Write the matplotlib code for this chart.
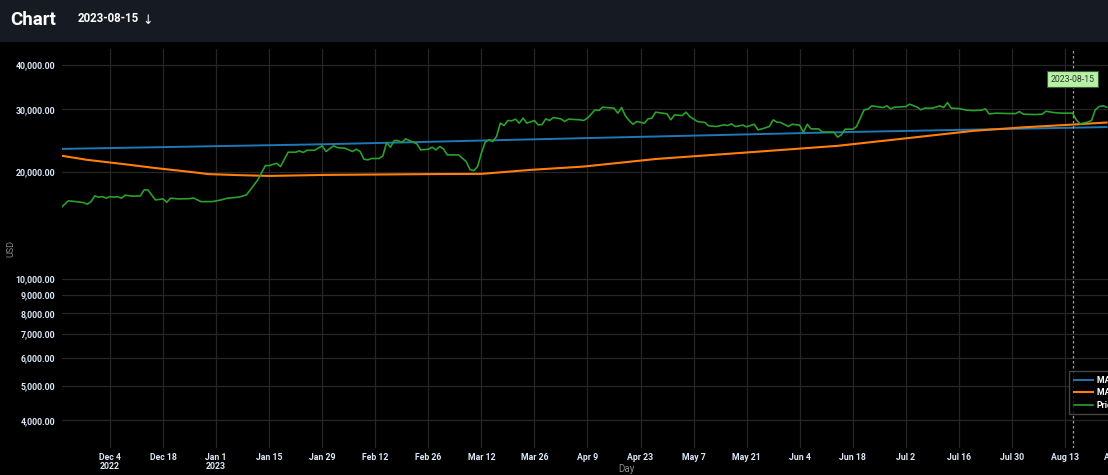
import numpy as np
import pandas as pd
import matplotlib
matplotlib.use('Agg')
import matplotlib.pyplot as plt
import matplotlib.dates as mdates
from matplotlib.ticker import FixedLocator, FuncFormatter, NullLocator
from matplotlib.patches import Rectangle

plt.rcParams['font.family'] = ['Roboto', 'DejaVu Sans']

# --- data ---
price_dates = ['2022-11-21', '2022-11-23', '2022-11-25', '2022-11-27', '2022-11-28', '2022-11-29',
               '2022-11-30', '2022-12-01', '2022-12-02', '2022-12-03', '2022-12-04', '2022-12-05',
               '2022-12-06', '2022-12-07', '2022-12-08', '2022-12-10', '2022-12-12', '2022-12-13',
               '2022-12-14', '2022-12-16', '2022-12-18', '2022-12-19', '2022-12-20', '2022-12-22',
               '2022-12-25', '2022-12-26', '2022-12-28', '2022-12-31', '2023-01-02', '2023-01-04',
               '2023-01-07', '2023-01-09', '2023-01-10', '2023-01-12', '2023-01-14', '2023-01-15',
               '2023-01-17', '2023-01-18', '2023-01-20', '2023-01-22', '2023-01-23', '2023-01-24',
               '2023-01-25', '2023-01-27', '2023-01-29', '2023-01-30', '2023-02-01', '2023-02-02',
               '2023-02-04', '2023-02-06', '2023-02-07', '2023-02-08', '2023-02-09', '2023-02-10',
               '2023-02-11', '2023-02-13', '2023-02-14', '2023-02-15', '2023-02-16', '2023-02-17',
               '2023-02-18', '2023-02-19', '2023-02-20', '2023-02-22', '2023-02-23', '2023-02-24',
               '2023-02-26', '2023-02-27', '2023-02-28', '2023-03-01', '2023-03-02', '2023-03-03',
               '2023-03-06', '2023-03-07', '2023-03-08', '2023-03-09', '2023-03-10', '2023-03-11',
               '2023-03-12', '2023-03-13', '2023-03-14', '2023-03-15', '2023-03-16', '2023-03-17',
               '2023-03-18', '2023-03-19', '2023-03-20', '2023-03-21', '2023-03-22', '2023-03-23',
               '2023-03-24', '2023-03-26', '2023-03-27', '2023-03-28', '2023-03-29', '2023-03-30',
               '2023-03-31', '2023-04-02', '2023-04-03', '2023-04-04', '2023-04-07', '2023-04-08',
               '2023-04-09', '2023-04-11', '2023-04-12', '2023-04-13', '2023-04-16', '2023-04-17',
               '2023-04-18', '2023-04-19', '2023-04-20', '2023-04-21', '2023-04-22', '2023-04-24',
               '2023-04-25', '2023-04-26', '2023-04-27', '2023-04-30', '2023-05-01', '2023-05-02',
               '2023-05-04', '2023-05-05', '2023-05-06', '2023-05-08', '2023-05-10', '2023-05-11',
               '2023-05-13', '2023-05-15', '2023-05-16', '2023-05-17', '2023-05-18', '2023-05-20',
               '2023-05-21', '2023-05-23', '2023-05-24', '2023-05-25', '2023-05-27', '2023-05-28',
               '2023-05-29', '2023-05-30', '2023-06-01', '2023-06-02', '2023-06-04', '2023-06-05',
               '2023-06-06', '2023-06-07', '2023-06-09', '2023-06-10', '2023-06-13', '2023-06-14',
               '2023-06-15', '2023-06-16', '2023-06-18', '2023-06-19', '2023-06-21', '2023-06-22',
               '2023-06-23', '2023-06-26', '2023-06-27', '2023-06-28', '2023-06-29', '2023-07-02',
               '2023-07-03', '2023-07-05', '2023-07-06', '2023-07-07', '2023-07-09', '2023-07-11',
               '2023-07-12', '2023-07-13', '2023-07-14', '2023-07-16', '2023-07-18', '2023-07-20',
               '2023-07-22', '2023-07-23', '2023-07-24', '2023-07-26', '2023-07-29', '2023-07-31',
               '2023-08-01', '2023-08-02', '2023-08-05', '2023-08-07', '2023-08-08', '2023-08-10',
               '2023-08-12', '2023-08-15', '2023-08-16', '2023-08-17', '2023-08-19', '2023-08-20',
               '2023-08-21', '2023-08-22', '2023-08-23', '2023-08-24']
price = [15850, 16590, 16510, 16400, 16230, 16510,
         17130, 16990, 17050, 16880, 17050, 16990,
         17050, 16880, 17210, 17100, 17130, 17810,
         17810, 16690, 16800, 16440, 16880, 16800,
         16830, 16910, 16510, 16510, 16660, 16880,
         16990, 17240, 17810, 19000, 20850, 20850,
         21170, 20720, 22740, 22740, 22930, 22700,
         23030, 23030, 23700, 22850, 23700, 23430,
         23340, 22850, 23190, 22850, 21740, 21640,
         21830, 21830, 22200, 24210, 23490, 24530,
         24530, 24210, 24800, 24270, 24000, 23080,
         23190, 23490, 23080, 23590, 23230, 22350,
         22350, 21870, 21400, 20320, 20180, 20720,
         22590, 24270, 24640, 24370, 25170, 27450,
         27040, 27930, 27870, 28180, 27450, 28360,
         27450, 27930, 27150, 27200, 28230, 27930,
         28470, 28230, 27750, 28180, 28050, 27930,
         28360, 29930, 29790, 30450, 30260, 29290,
         30380, 28790, 27930, 27260, 27750, 27450,
         28230, 28360, 29480, 29160, 28050, 28970,
         28840, 29480, 28660, 27750, 27570, 26980,
         26860, 27150, 27040, 27330, 26860, 27100,
         26810, 27260, 26280, 26450, 26860, 28050,
         27640, 27570, 26860, 27260, 27100, 25870,
         27260, 26450, 26450, 25920, 25920, 25080,
         25450, 26400, 26400, 26860, 29930, 30060,
         30710, 30380, 30710, 30120, 30450, 30570,
         31050, 30450, 29930, 30260, 30260, 30710,
         30380, 31370, 30260, 30180, 29870, 29790,
         29870, 30120, 29160, 29290, 29220, 29220,
         29600, 29100, 29030, 29100, 29660, 29410,
         29290, 29290, 28050, 27330, 27640, 27930,
         29930, 30570, 30710, 30450]

ma_long_dates = ['2022-11-21', '2023-01-30', '2023-04-08', '2023-06-17', '2023-08-24']
ma_long = [23230, 23950, 24910, 25920, 26770]

ma_short_dates = ['2022-11-21', '2022-11-28', '2022-12-07', '2022-12-16', '2022-12-25', '2022-12-30',
                  '2023-01-07', '2023-01-15', '2023-01-30', '2023-02-26', '2023-03-12', '2023-03-25',
                  '2023-04-08', '2023-04-27', '2023-05-21', '2023-06-14', '2023-07-02', '2023-07-20',
                  '2023-08-02', '2023-08-15', '2023-08-24']
ma_short = [22250, 21640, 21090, 20520, 20030, 19730,
            19600, 19500, 19630, 19730, 19760, 20280,
            20720, 21760, 22700, 23700, 24880, 26130,
            26720, 27200, 27570]

legend_labels = ['MA 200', 'MA 50', 'Price']
yticks = [4000, 5000, 6000, 7000, 8000, 9000, 10000, 20000, 30000, 40000]
selected_day = '2023-08-15'

W, H = 1108, 475
fig = plt.figure(figsize=(W / 100, H / 100), dpi=100)
fig.patch.set_facecolor('#000000')

# header bar
fig.patches.append(Rectangle((0, 1 - 42 / H), 1, 42 / H, transform=fig.transFigure,
                             facecolor='#161a23', edgecolor='none', zorder=0))
fig.text(10 / W, 1 - 20 / H, 'Chart', color='white', fontsize=13.5, fontweight='bold',
         va='center', ha='left')
fig.text(78 / W, 1 - 19 / H, selected_day, color='white', fontsize=8.3, fontweight='bold',
         va='center', ha='left')
fig.text(148 / W, 1 - 20 / H, '\u2193', color='white', fontsize=9, va='center', ha='center',
         family=['DejaVu Sans'])

# axes is wider than the figure: the chart is cut off at the right
ax = fig.add_axes([62 / W, (H - 448) / H, (1190 - 62) / W, 399 / H])
ax.set_facecolor('#000000')

ax.plot(pd.to_datetime(ma_long_dates), ma_long, color='#1f77b4', lw=1.4, label=legend_labels[0])
ax.plot(pd.to_datetime(ma_short_dates), ma_short, color='#ff7f0e', lw=1.5, label=legend_labels[1])
ax.plot(pd.to_datetime(price_dates), price, color='#2ca02c', lw=1.2, label=legend_labels[2])

ax.set_yscale('log')
ax.set_ylim(3342, 44400)
ax.set_xlim(pd.Timestamp('2022-11-21 08:00'), pd.Timestamp('2023-09-15'))

ax.yaxis.set_major_locator(FixedLocator(yticks))
ax.yaxis.set_minor_locator(NullLocator())
ax.yaxis.set_major_formatter(FuncFormatter(lambda v, p: f'{v:,.2f}'))

xt = pd.date_range('2022-12-04', '2023-09-10', freq='14D')
ax.set_xticks(xt)


def xfmt(v, p):
    d = mdates.num2date(v)
    s = f'{d:%b} {d.day}'
    if p == 0 or (d.month == 1 and d.day <= 14):
        s += f'\n{d.year}'
    return s


ax.xaxis.set_major_formatter(FuncFormatter(xfmt))
ax.xaxis.set_minor_locator(NullLocator())

ax.tick_params(axis='both', length=0, colors='#dce8f7', labelsize=6.3)
ax.tick_params(axis='x', pad=3.5)
ax.tick_params(axis='y', pad=5)
for lab in ax.get_xticklabels() + ax.get_yticklabels():
    lab.set_fontweight('bold')
for lab in ax.get_xticklabels():
    lab.set_linespacing(0.95)
ax.grid(True, color='#262626', lw=0.9)
for s in ax.spines.values():
    s.set_visible(False)

ax.set_ylabel('USD', color='#8a8a8a', fontsize=6.5)
ax.yaxis.set_label_coords(-(62 - 15) / (1190 - 62), 0.5)
ax.set_xlabel('Day', color='#8a8a8a', fontsize=7, va='center')
ax.xaxis.set_label_coords(0.5, -(469 - 448) / 399)

# hovered day
sel = pd.Timestamp(selected_day)
ax.axvline(sel, color='#a0a0a0', lw=0.9, ls=(0, (2, 2)))
ax.text(sel, 36500, selected_day, ha='center', va='center', fontsize=6.3, color='#333333',
        bbox=dict(boxstyle='square,pad=0.4', facecolor='#b6f2a4', edgecolor='#3d5a3d', lw=0.8))

leg = fig.legend(loc='upper left', bbox_to_anchor=(1065 / W, 1 - 367 / H), frameon=True,
                 fontsize=6.3, handlelength=2.2, handletextpad=0.45, labelspacing=0.4,
                 borderpad=0.5, fancybox=False)
leg.get_frame().set_facecolor('#000000')
leg.get_frame().set_edgecolor('#555555')
leg.get_frame().set_linewidth(1.0)
for t in leg.get_texts():
    t.set_color('white')
    t.set_fontweight('bold')

fig.savefig('out.png', dpi=100, facecolor=fig.get_facecolor())
